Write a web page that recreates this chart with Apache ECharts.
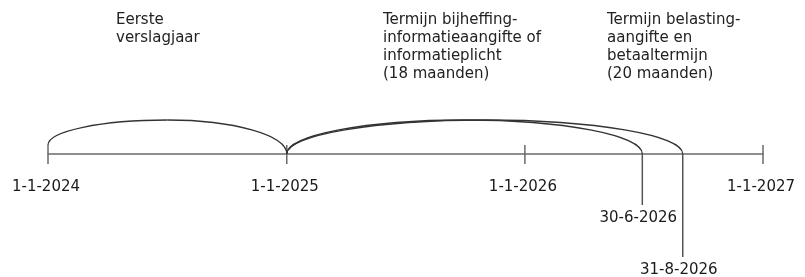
<!DOCTYPE html>
<html lang="nl">
<head>
  <meta charset="UTF-8">
  <title>Tijdlijn verslagjaar</title>
  <script src="https://cdn.jsdelivr.net/npm/echarts@6/dist/echarts.min.js"></script>
</head>
<body style="margin:0;background:#fff">
<div id="main" style="width:805px;height:277px"></div>
<script type="text/javascript">
  // jaar-ticks op de tijdlijn
  var tickDates = ['2024-01-01', '2025-01-01', '2026-01-01', '2027-01-01'];
  // bogen: begin en einde van elke periode
  var periodNames = [
    'Eerste\nverslagjaar',
    'Termijn bijheffing-\ninformatieaangifte of\ninformatieplicht\n(18 maanden)',
    'Termijn belasting-\naangifte en\nbetaaltermijn\n(20 maanden)'
  ];
  var periodStart = ['2024-01-01', '2025-01-01', '2025-01-01'];
  var periodEnd = ['2025-01-01', '2026-06-30', '2026-08-31'];
  // einddata van de termijnen
  var deadlineDates = ['2026-06-30', '2026-08-31'];
  var deadlineLabels = ['30-6-2026', '31-8-2026'];

  function toTime(s) {
    var p = s.split('-');
    return new Date(+p[0], +p[1] - 1, +p[2]).getTime();
  }
  function fmt(v) {
    var d = new Date(v);
    return d.getDate() + '-' + (d.getMonth() + 1) + '-' + d.getFullYear();
  }

  var font = 'DejaVu Sans, Verdana, sans-serif';
  var K = 0.5523; // kwart-ellips benadering
  var chartDom = document.getElementById('main');
  var myChart = echarts.init(chartDom);
  var option;

  option = {
    animation: false,
    grid: { left: 48, right: 42, top: 0, bottom: 0, outerBoundsMode: 'none', containLabel: false },
    xAxis: {
      // tijd als getal (ms)
      type: 'value',
      min: toTime(tickDates[0]),
      max: toTime(tickDates[tickDates.length - 1]),
      axisLine: { onZero: true, lineStyle: { color: '#6a6a6a', width: 1.5 } },
      axisTick: { show: false },
      splitLine: { show: false },
      axisLabel: { show: false }
    },
    yAxis: { type: 'value', min: -123, max: 154, show: false },
    graphic: [
      { type: 'text', left: 116, top: 11, style: { text: periodNames[0], font: '15px ' + font, lineHeight: 18, fill: '#222' } },
      { type: 'text', left: 383, top: 11, style: { text: periodNames[1], font: '15px ' + font, lineHeight: 18, fill: '#222' } },
      { type: 'text', left: 607, top: 11, style: { text: periodNames[2], font: '15px ' + font, lineHeight: 18, fill: '#222' } }
    ],
    series: [
      {
        // jaar-ticks en datumlabels
        type: 'custom',
        data: tickDates.map(function (d) { return [toTime(d), 0]; }),
        renderItem: function (params, api) {
          var p = api.coord([api.value(0), 0]);
          return {
            type: 'group',
            children: [
              {
                type: 'line',
                shape: { x1: p[0], y1: p[1] - 9, x2: p[0], y2: p[1] + 10 },
                style: { stroke: '#6a6a6a', lineWidth: 1.5 }
              },
              {
                type: 'text',
                x: p[0] - 2, y: p[1] + 33,
                style: {
                  text: fmt(api.value(0)),
                  font: '15px ' + font, fill: '#1a1a1a',
                  align: 'center', verticalAlign: 'middle'
                }
              }
            ]
          };
        }
      },
      {
        // bogen (halve ellips)
        type: 'custom',
        encode: { x: [0, 1] },
        data: periodStart.map(function (s, i) { return [toTime(s), toTime(periodEnd[i])]; }),
        renderItem: function (params, api) {
          var a = api.coord([api.value(0), 0]);
          var b = api.coord([api.value(1), 0]);
          var top = api.coord([api.value(0), 34])[1];
          var hw = (b[0] - a[0]) / 2;
          var mx = a[0] + hw;
          var y0 = params.dataIndex === 0 ? a[1] - 9 : a[1];
          var style = { stroke: '#333', lineWidth: 1.3, fill: null };
          return {
            type: 'group',
            children: [
              {
                type: 'bezierCurve',
                shape: {
                  x1: a[0], y1: y0,
                  cpx1: a[0], cpy1: y0 - K * (y0 - top),
                  cpx2: mx - K * hw, cpy2: top,
                  x2: mx, y2: top
                },
                style: style
              },
              {
                type: 'bezierCurve',
                shape: {
                  x1: mx, y1: top,
                  cpx1: mx + K * hw, cpy1: top,
                  cpx2: b[0], cpy2: b[1] - K * (b[1] - top),
                  x2: b[0], y2: b[1]
                },
                style: style
              }
            ]
          };
        }
      },
      {
        // einddata
        type: 'custom',
        data: deadlineDates.map(function (d) { return [toTime(d), 0]; }),
        renderItem: function (params, api) {
          var p = api.coord([api.value(0), 0]);
          var depth = params.dataIndex === 0 ? 51 : 103;
          return {
            type: 'group',
            children: [
              {
                type: 'line',
                shape: { x1: p[0], y1: p[1], x2: p[0], y2: p[1] + depth },
                style: { stroke: '#555', lineWidth: 1.5 }
              },
              {
                type: 'text',
                x: p[0] - 4, y: p[1] + depth + 13,
                style: {
                  text: deadlineLabels[params.dataIndex],
                  font: '15px ' + font, fill: '#1a1a1a',
                  align: 'center', verticalAlign: 'middle'
                }
              }
            ]
          };
        }
      }
    ]
  };

  option && myChart.setOption(option);
</script>
</body>
</html>
